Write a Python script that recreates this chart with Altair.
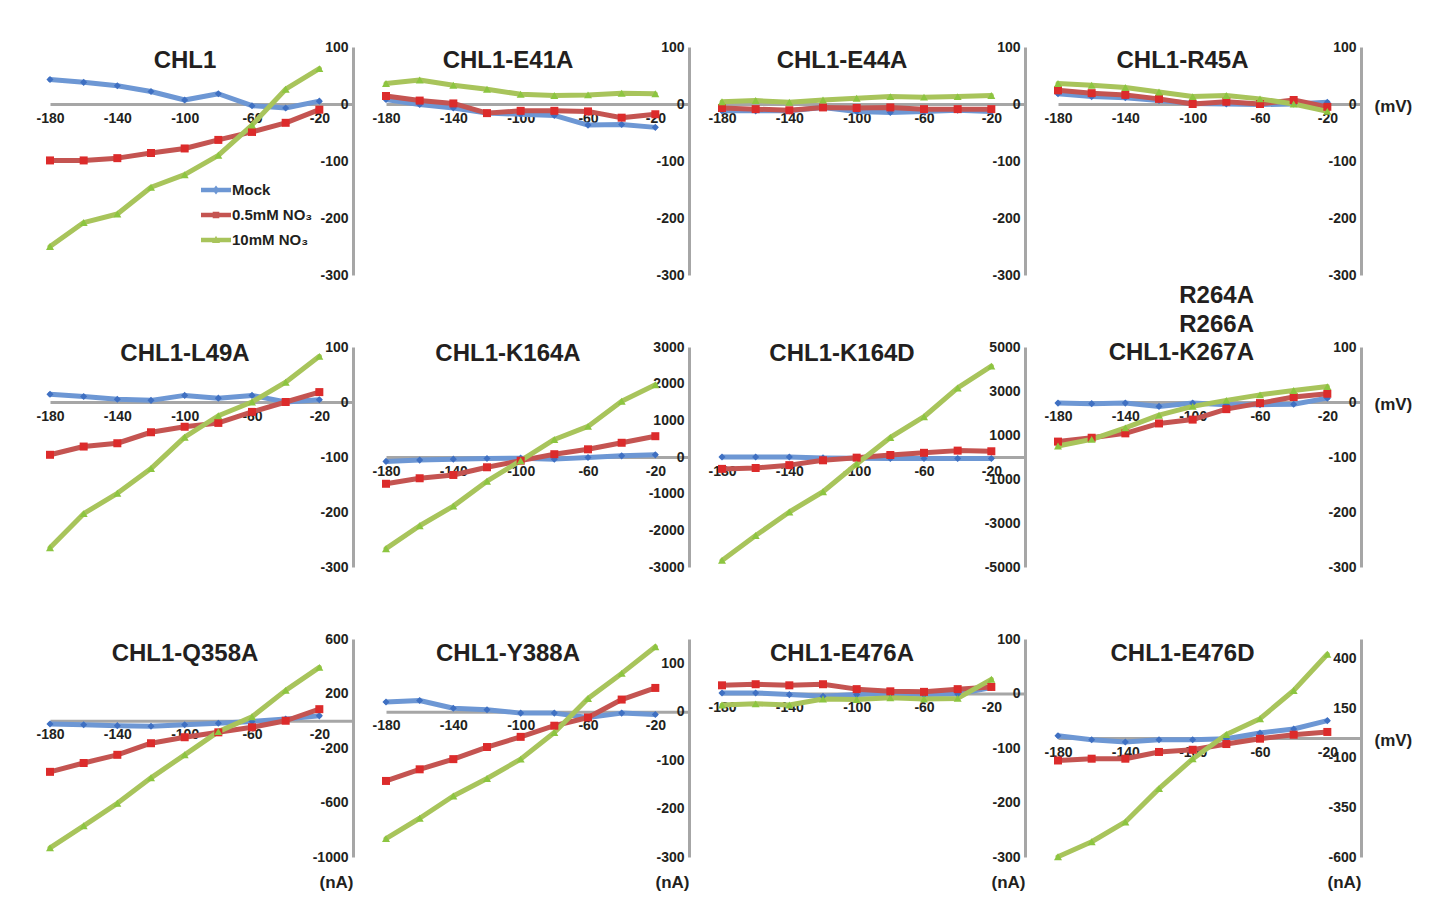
import altair as alt
import pandas as pd

VOLTAGES = [-180, -160, -140, -120, -100, -80, -60, -40, -20]
X_TICKS = [-180, -140, -100, -60, -20]
SERIES = ["Mock", "0.5mM NO₃", "10mM NO₃"]

TITLES = ["CHL1", "CHL1-E41A", "CHL1-E44A", "CHL1-R45A",
          "CHL1-L49A", "CHL1-K164A", "CHL1-K164D", ["R264A", "R266A", "CHL1-K267A"],
          "CHL1-Q358A", "CHL1-Y388A", "CHL1-E476A", "CHL1-E476D"]

# current (nA) per voltage
chl1_mock = [43, 38, 32, 22, 7, 18, -3, -7, 5]
chl1_low = [-99, -99, -95, -86, -78, -63, -49, -33, -10]
chl1_high = [-250, -208, -193, -146, -124, -90, -37, 26, 62]

e41a_mock = [8, -1, -7, -16, -18, -20, -37, -36, -41]
e41a_low = [14, 6, 1, -16, -12, -12, -13, -24, -18]
e41a_high = [36, 42, 33, 26, 17, 15, 16, 19, 18]

e44a_mock = [-12, -12, -12, -6, -13, -15, -13, -11, -13]
e44a_low = [-7, -9, -11, -6, -7, -6, -9, -9, -9]
e44a_high = [4, 6, 3, 7, 10, 13, 12, 13, 15]

r45a_mock = [18, 13, 11, 6, 1, 0, -1, 0, 3]
r45a_low = [24, 19, 16, 9, 0, 4, 0, 7, -5]
r45a_high = [36, 33, 29, 21, 13, 15, 9, 0, -13]

l49a_mock = [14, 10, 5, 3, 12, 7, 12, 0, 4]
l49a_low = [-96, -81, -75, -55, -45, -38, -18, 0, 18]
l49a_high = [-265, -203, -166, -121, -64, -25, 0, 36, 83]

k164a_mock = [-120, -85, -58, -40, -31, -58, -13, 31, 58]
k164a_low = [-730, -580, -490, -280, -100, 76, 210, 388, 567]
k164a_high = [-2500, -1875, -1340, -660, -100, 478, 835, 1520, 1970]

k164d_mock = [0, 0, 0, -40, -60, -70, -70, -70, -70]
k164d_low = [-540, -500, -370, -150, -30, 90, 190, 290, 260]
k164d_high = [-4700, -3570, -2500, -1580, -320, 890, 1830, 3140, 4130]

k267a_mock = [-2, -3, -2, -8, -2, -5, -5, -4, 7]
k267a_low = [-72, -65, -57, -39, -32, -13, -2, 9, 15]
k267a_high = [-80, -68, -47, -24, -8, 3, 13, 21, 28]

q358a_mock = [-24, -29, -36, -41, -29, -19, -5, 12, 36]
q358a_low = [-375, -310, -250, -165, -121, -85, -48, 0, 85]
q358a_high = [-933, -771, -606, -419, -250, -80, 29, 223, 392]

y388a_mock = [20, 23, 7, 4, -3, -3, -12, -3, -6]
y388a_low = [-143, -119, -98, -73, -52, -29, -12, 25, 49]
y388a_high = [-262, -220, -174, -138, -98, -43, 27, 79, 134]

e476a_mock = [1, 1, -2, -5, -2, 0, -2, -1, 11]
e476a_low = [15, 17, 15, 17, 8, 4, 3, 8, 12]
e476a_high = [-21, -19, -21, -10, -11, -8, -10, -9, 26]

e476d_mock = [12, -8, -20, -8, -8, -3, 26, 46, 88]
e476d_low = [-113, -104, -104, -70, -59, -30, -3, 17, 31]
e476d_high = [-599, -523, -423, -255, -105, 18, 98, 240, 423]

PANEL_DATA = [
    (chl1_mock, chl1_low, chl1_high), (e41a_mock, e41a_low, e41a_high),
    (e44a_mock, e44a_low, e44a_high), (r45a_mock, r45a_low, r45a_high),
    (l49a_mock, l49a_low, l49a_high), (k164a_mock, k164a_low, k164a_high),
    (k164d_mock, k164d_low, k164d_high), (k267a_mock, k267a_low, k267a_high),
    (q358a_mock, q358a_low, q358a_high), (y388a_mock, y388a_low, y388a_high),
    (e476a_mock, e476a_low, e476a_high), (e476d_mock, e476d_low, e476d_high),
]

Y_DOMAINS = [[-300, 100]] * 4 + [[-300, 100], [-3000, 3000], [-5000, 5000], [-300, 100]] + \
            [[-1000, 600], [-300, 150], [-300, 100], [-600, 500]]
STD_TICKS = [100, 0, -100, -200, -300]
Y_TICKS = [STD_TICKS] * 4 + [STD_TICKS, [3000, 2000, 1000, 0, -1000, -2000, -3000],
                             [5000, 3000, 1000, -1000, -3000, -5000], STD_TICKS] + \
          [[600, 200, -200, -600, -1000], STD_TICKS, STD_TICKS, [400, 150, -100, -350, -600]]

# styling
W = 303
ROW_H = [228, 220, 218]
TITLE_X = [135, 122, 120, 124.5]
TITLE_Y = [21, 14, 22]
LINE_COLORS = ["#6d97d4", "#c45451", "#a8c45b"]
MARK_COLORS = ["#3f70c2", "#dc2b2b", "#8cc540"]
SHAPES = ["diamond", "square", "triangle-up"]
SIZES = [50, 64, 64]
BAR = "M-1.5,-0.22L1.5,-0.22L1.5,0.22L-1.5,0.22Z "
LEG_PATHS = [BAR + "M0,-0.45L0.35,0L0,0.45L-0.35,0Z",
             BAR + "M-0.33,-0.33L0.33,-0.33L0.33,0.33L-0.33,0.33Z",
             BAR + "M0,-0.42L0.4,0.3L-0.4,0.3Z"]
GRAY = "#a6a6a6"
TXT = "#231f20"
LFONT = "Liberation Sans Narrow, Liberation Sans, Arial"
TFONT = "Liberation Sans, Arial"


def make_panel(i):
    row, col = divmod(i, 4)
    h = ROW_H[row]
    dom = Y_DOMAINS[i]
    recs = []
    for s, vals in zip(SERIES, PANEL_DATA[i]):
        for v, cur in zip(VOLTAGES, vals):
            recs.append({"V": v, "I": cur, "series": s})
    df = pd.DataFrame(recs)

    xkw = dict(values=X_TICKS, orient="bottom", offset=-h * (0 - dom[0]) / (dom[1] - dom[0]),
               domainColor=GRAY, domainWidth=3, ticks=False, tickSize=0, grid=False,
               labelPadding=7, labelFont=LFONT, labelFontSize=14, labelFontWeight="bold",
               labelColor=TXT, labelFlush=False, labelOverlap=False,
               labelExpr="toString(datum.value)")
    if col == 3:
        xkw.update(title="(mV)", titleX=W + 13, titleY=2, titleAlign="left",
                   titleBaseline="middle", titleFont=TFONT, titleFontSize=17,
                   titleFontWeight="bold", titleColor=TXT, titleAngle=0)
    else:
        xkw.update(title=None)
    ykw = dict(values=Y_TICKS[i], orient="right", domainColor=GRAY, domainWidth=3,
               ticks=False, tickSize=0, grid=False, labelAlign="right", labelPadding=-5,
               labelBaseline="middle", labelFont=LFONT, labelFontSize=14,
               labelFontWeight="bold", labelColor=TXT, labelOverlap=False,
               labelExpr="toString(datum.value)")
    if row == 2:
        ykw.update(title="(nA)", titleX=-17, titleY=h + 25, titleAlign="center",
                   titleBaseline="middle", titleAngle=0, titleFont=TFONT, titleFontSize=17,
                   titleFontWeight="bold", titleColor=TXT)
    else:
        ykw.update(title=None)

    x = alt.X("V:Q", scale=alt.Scale(domain=[-180, 0], nice=False, zero=False), axis=alt.Axis(**xkw))
    y = alt.Y("I:Q", scale=alt.Scale(domain=dom, nice=False, zero=False), axis=alt.Axis(**ykw))

    base = alt.Chart(df)
    layers = []
    for k, s in enumerate(SERIES):
        layers.append(base.mark_line(color=LINE_COLORS[k], strokeWidth=5, strokeJoin="round",
                                     strokeCap="round").encode(x=x, y=y)
                      .transform_filter(alt.datum.series == s))
    for k, s in enumerate(SERIES):
        layers.append(base.mark_point(filled=True, shape=SHAPES[k], size=SIZES[k],
                                      color=MARK_COLORS[k], opacity=1).encode(x=x, y=y)
                      .transform_filter(alt.datum.series == s))
    if i == 0:
        leg = alt.Legend(title=None, orient="none", legendX=156, legendY=133, symbolSize=400,
                         symbolStrokeWidth=0, labelFont=TFONT, labelFontSize=15,
                         labelFontWeight="bold", labelColor=TXT, labelOffset=6,
                         rowPadding=7, padding=0, symbolOpacity=1)
        layers.append(base.mark_point(filled=True, size=400).encode(
            x=x, y=y,
            color=alt.Color("series:N", scale=alt.Scale(domain=SERIES, range=LINE_COLORS), legend=leg),
            shape=alt.Shape("series:N", scale=alt.Scale(domain=SERIES, range=LEG_PATHS), legend=leg),
        ).transform_filter("false"))

    # panel title as text inside the panel
    title_txt = TITLES[i]
    multi = isinstance(title_txt, list)
    tdf = pd.DataFrame({"title": [0]})
    if multi:
        tx, ty, talign = 196, -44, "right"
    else:
        tx, ty, talign = TITLE_X[col], TITLE_Y[row], "center"
    layers.append(alt.Chart(tdf).mark_text(
        align=talign, baseline="alphabetic", font=TFONT, fontSize=24, fontWeight="bold",
        color=TXT, lineHeight=28.5,
    ).encode(x=alt.value(tx), y=alt.value(ty), text=alt.value(title_txt)))

    return alt.layer(*layers).properties(width=W, height=h)


panels = [make_panel(i) for i in range(12)]

chart = alt.concat(*panels, columns=4, spacing={"row": 72, "column": 33},
                   bounds="flush", align="each").resolve_scale(
    color="independent", shape="independent"
).properties(
    padding={"left": 27, "top": 32, "right": 10, "bottom": 5},
    background="white",
).configure_view(stroke=None)

chart.save("out.html", embed_options={"renderer": "svg", "actions": False})
